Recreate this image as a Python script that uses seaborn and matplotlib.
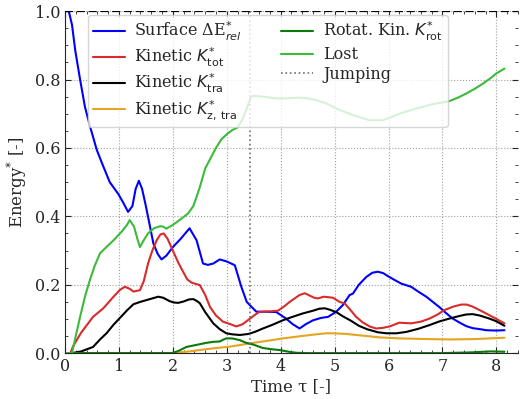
import numpy as np
import pandas as pd
import matplotlib
matplotlib.use("Agg")
import matplotlib.pyplot as plt
import seaborn as sns
from matplotlib.ticker import MultipleLocator

# ---------------- data ----------------
t_surf = [0, 0.07, 0.13, 0.19, 0.28, 0.37, 0.47, 0.59, 0.7, 0.83, 0.99, 1.08, 1.17, 1.25, 1.31,
          1.37, 1.43, 1.5, 1.57, 1.64, 1.72, 1.79, 1.88, 2.0, 2.15, 2.31, 2.44, 2.56, 2.65, 2.75,
          2.87, 3.0, 3.15, 3.27, 3.37, 3.43, 3.55, 3.75, 3.92, 4.1, 4.22, 4.35, 4.47, 4.6, 4.75,
          4.88, 5.03, 5.15, 5.28, 5.34, 5.45, 5.59, 5.7, 5.8, 5.9, 5.99, 6.1, 6.24, 6.42, 6.55,
          6.7, 6.82, 6.94, 7.06, 7.19, 7.31, 7.44, 7.56, 7.7, 7.81, 8.0, 8.15]
surface = [1.0, 1.0, 0.96, 0.885, 0.80, 0.72, 0.66, 0.594, 0.55, 0.50, 0.465, 0.44, 0.413, 0.43, 0.48,
           0.504, 0.48, 0.43, 0.375, 0.32, 0.29, 0.274, 0.285, 0.31, 0.335, 0.365, 0.33, 0.262, 0.258, 0.262,
           0.274, 0.268, 0.257, 0.194, 0.15, 0.14, 0.121, 0.121, 0.12, 0.101, 0.085, 0.072, 0.085, 0.096, 0.103,
           0.106, 0.121, 0.14, 0.17, 0.174, 0.2, 0.223, 0.235, 0.238, 0.234, 0.225, 0.215, 0.203, 0.194, 0.18,
           0.165, 0.15, 0.135, 0.118, 0.101, 0.09, 0.079, 0.073, 0.07, 0.067, 0.066, 0.067]

t_ktot = [0, 0.1, 0.15, 0.3, 0.52, 0.71, 0.9, 1.02, 1.11, 1.2, 1.27, 1.39, 1.46, 1.54, 1.62, 1.70,
          1.77, 1.83, 1.9, 2.0, 2.1, 2.19, 2.27, 2.35, 2.5, 2.6, 2.69, 2.8, 2.93, 3.06, 3.18, 3.3,
          3.43, 3.55, 3.61, 3.8, 3.95, 4.05, 4.17, 4.35, 4.45, 4.54, 4.62, 4.69, 4.8, 4.97, 5.09,
          5.19, 5.3, 5.4, 5.52, 5.65, 5.77, 5.9, 6.02, 6.2, 6.42, 6.6, 6.76, 6.9, 7.04, 7.2, 7.35,
          7.45, 7.56, 7.7, 7.87, 8.0, 8.15]
k_tot = [0, 0, 0.02, 0.06, 0.106, 0.131, 0.165, 0.185, 0.194, 0.188, 0.18, 0.184, 0.21, 0.262, 0.3, 0.33,
         0.347, 0.35, 0.335, 0.30, 0.265, 0.238, 0.215, 0.206, 0.199, 0.17, 0.135, 0.11, 0.092, 0.085, 0.078, 0.085,
         0.101, 0.115, 0.121, 0.122, 0.124, 0.135, 0.15, 0.17, 0.175, 0.168, 0.162, 0.16, 0.165, 0.162, 0.15,
         0.145, 0.125, 0.106, 0.09, 0.078, 0.072, 0.074, 0.078, 0.089, 0.087, 0.092, 0.101, 0.112, 0.126, 0.136, 0.142,
         0.142, 0.136, 0.125, 0.111, 0.1, 0.087]

t_ktra = [0, 0.13, 0.3, 0.52, 0.65, 0.77, 0.9, 1.02, 1.15, 1.27, 1.4, 1.51, 1.62, 1.73, 1.82, 1.94,
          2.02, 2.1, 2.2, 2.3, 2.38, 2.45, 2.5, 2.6, 2.75, 2.87, 2.99, 3.1, 3.24, 3.4, 3.52, 3.67,
          3.85, 4.04, 4.2, 4.41, 4.6, 4.72, 4.82, 4.91, 5.03, 5.15, 5.3, 5.45, 5.6, 5.8, 5.96, 6.15,
          6.33, 6.55, 6.76, 6.95, 7.13, 7.3, 7.44, 7.56, 7.69, 7.87, 8.0, 8.15]
k_tra = [0, 0, 0.005, 0.018, 0.04, 0.058, 0.083, 0.103, 0.125, 0.143, 0.15, 0.155, 0.16, 0.165, 0.162, 0.152,
         0.148, 0.147, 0.151, 0.157, 0.158, 0.152, 0.146, 0.12, 0.087, 0.07, 0.058, 0.055, 0.053, 0.056, 0.062, 0.072,
         0.083, 0.096, 0.105, 0.116, 0.124, 0.13, 0.131, 0.127, 0.12, 0.108, 0.095, 0.08, 0.07, 0.061, 0.058, 0.058,
         0.062, 0.071, 0.082, 0.093, 0.101, 0.108, 0.113, 0.114, 0.11, 0.101, 0.093, 0.08]

t_kz = [0, 2.0, 2.2, 2.5, 2.75, 3.06, 3.3, 3.49, 3.67, 4.04, 4.29, 4.66, 4.85, 4.97, 5.22, 5.59,
        5.84, 6.2, 6.76, 7.13, 7.6, 8.15]
k_ztra = [0, 0, 0.003, 0.009, 0.014, 0.019, 0.025, 0.03, 0.034, 0.043, 0.048, 0.055, 0.058, 0.058, 0.056, 0.05,
          0.046, 0.043, 0.041, 0.04, 0.041, 0.045]

t_rot = [0, 1.98, 2.1, 2.25, 2.5, 2.62, 2.75, 2.87, 2.93, 2.99, 3.1, 3.24, 3.36, 3.49, 3.67, 3.85,
         3.98, 4.15, 4.29, 4.5, 7.0, 7.5, 7.9, 8.15]
k_rot = [0, 0, 0.006, 0.018, 0.026, 0.03, 0.033, 0.034, 0.039, 0.043, 0.043, 0.038, 0.03, 0.025, 0.015, 0.011,
         0.009, 0.004, 0.001, 0, 0, 0.002, 0.005, 0.004]

t_lost = [0, 0.13, 0.2, 0.28, 0.37, 0.46, 0.55, 0.65, 0.78, 0.9, 1.05, 1.15, 1.2, 1.28, 1.35, 1.39,
          1.46, 1.54, 1.65, 1.76, 1.82, 1.88, 2.0, 2.15, 2.28, 2.38, 2.44, 2.5, 2.6, 2.7, 2.8, 2.9,
          3.0, 3.1, 3.2, 3.28, 3.36, 3.45, 3.5, 3.62, 3.92, 4.1, 4.35, 4.5, 4.66, 4.85, 5.03, 5.34,
          5.65, 5.89, 6.05, 6.2, 6.51, 6.82, 7.0, 7.13, 7.3, 7.44, 7.6, 7.75, 7.9, 8.0, 8.15]
lost = [0, 0, 0.05, 0.106, 0.165, 0.213, 0.255, 0.292, 0.312, 0.33, 0.355, 0.375, 0.389, 0.37, 0.33, 0.31,
        0.33, 0.35, 0.365, 0.371, 0.37, 0.364, 0.375, 0.392, 0.408, 0.43, 0.457, 0.485, 0.54, 0.57, 0.6, 0.625,
        0.64, 0.652, 0.66, 0.68, 0.71, 0.75, 0.752, 0.751, 0.745, 0.745, 0.747, 0.745, 0.74, 0.73, 0.715, 0.696,
        0.681, 0.681, 0.69, 0.70, 0.715, 0.728, 0.733, 0.737, 0.748, 0.759, 0.773, 0.788, 0.805, 0.818, 0.832]

t_jump = 3.44

labels = ["Surface ΔE$^{*}_{rel}$", "Kinetic $K^{*}_{\\rm tot}$", "Kinetic $K^{*}_{\\rm tra}$",
          "Kinetic $K^{*}_{\\rm z,\\,tra}$", "Rotat. Kin. $K^{*}_{\\rm rot}$", "Lost", "Jumping"]
colors = ["#0000ff", "#d92b2b", "#000000", "#e4a522", "#0a7a0a", "#3cba3c"]

# ---------------- style ----------------
sns.set_style("ticks")
plt.rcParams["font.family"] = ["DejaVu Serif"]
plt.rcParams["mathtext.fontset"] = "dejavusans"

fig = plt.figure(figsize=(5.2, 3.99), dpi=100)
ax = fig.add_axes([0.125, 0.115, 0.871, 0.857])

series = [(t_surf, surface), (t_ktot, k_tot), (t_ktra, k_tra), (t_kz, k_ztra), (t_rot, k_rot), (t_lost, lost)]
for (tx, ty), lab, c in zip(series, labels[:6], colors):
    sns.lineplot(x=tx, y=ty, ax=ax, color=c, lw=1.5, label=lab, estimator=None, sort=False)

ax.axvline(t_jump, color="#6e6e6e", ls=":", lw=1.2, label=labels[6])
ax.axhline(1.0, color="black", ls="--", lw=1.6, zorder=5)

ax.set_xlim(0, 8.4)
ax.set_ylim(0, 1.0)
ax.xaxis.set_major_locator(MultipleLocator(1))
ax.xaxis.set_minor_locator(MultipleLocator(0.2))
ax.yaxis.set_major_locator(MultipleLocator(0.2))
ax.yaxis.set_minor_locator(MultipleLocator(0.05))
ax.tick_params(which="both", direction="in", top=True, right=True, labelsize=11.5)
ax.tick_params(which="major", length=4)
ax.tick_params(which="minor", length=2)
ax.grid(True, which="major", ls=":", color="#a0a0a0", lw=0.8)
ax.spines["top"].set_visible(False)
ax.spines["right"].set_visible(False)

ax.set_xlabel("Time τ [-]", fontsize=12, labelpad=2)
ax.set_ylabel("Energy$^{*}$ [-]", fontsize=12, labelpad=4)

h, l = ax.get_legend_handles_labels()
leg = ax.legend(h, l, ncol=2, loc="upper left", bbox_to_anchor=(0.051, 0.988), borderaxespad=0,
                fontsize=11.5, framealpha=0.8, handlelength=2.0, handletextpad=0.6,
                columnspacing=2.45, labelspacing=0.18, borderpad=0.3)

fig.savefig("out.png", dpi=100)
